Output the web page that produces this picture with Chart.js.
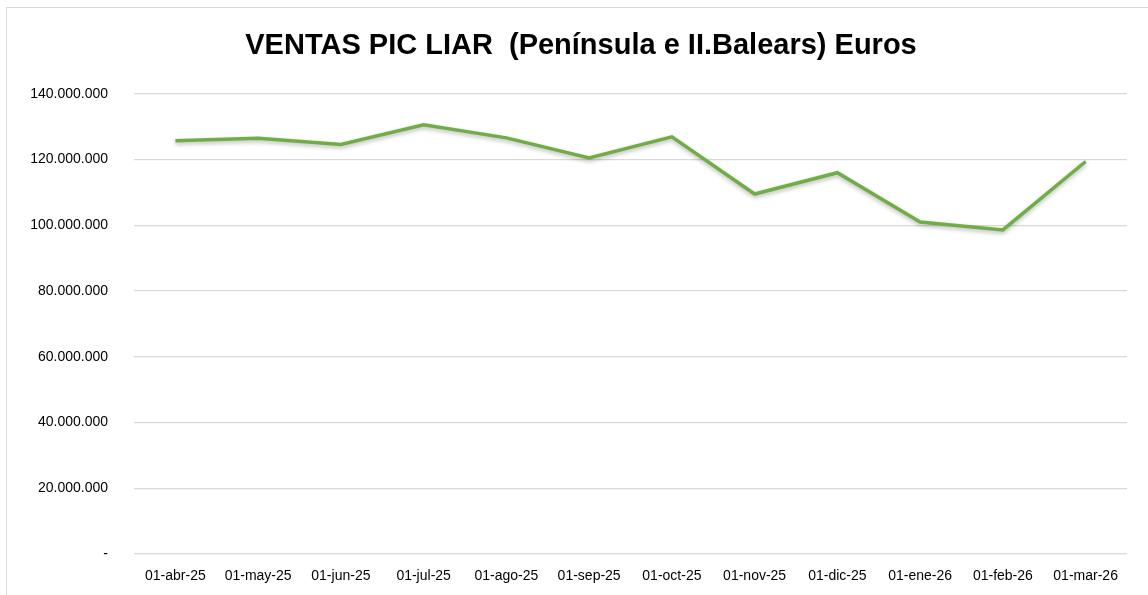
<!DOCTYPE html>
<html>
<head>
<meta charset="utf-8">
<script src="https://cdn.jsdelivr.net/npm/chart.js@4.4.1/dist/chart.umd.min.js"></script>
<style>
    html, body { margin: 0; padding: 0; background: #fff; overflow: hidden; }
    #frame { position: absolute; left: 6px; top: 7px; width: 1160px; height: 610px; border: 1.5px solid #d9d9d9; box-sizing: border-box; }
    #wrap { position: absolute; left: 0; top: 0; width: 1148px; height: 595px; }
</style>
</head>
<body>
<div id="frame"></div>
<div id="wrap"><canvas id="salesChart"></canvas></div>
<script>
// --- Data ---
const months = ['01-abr-25', '01-may-25', '01-jun-25', '01-jul-25', '01-ago-25', '01-sep-25',
                '01-oct-25', '01-nov-25', '01-dic-25', '01-ene-26', '01-feb-26', '01-mar-26'];
const ventas = [125700000, 126500000, 124600000, 130600000, 126600000, 120500000,
                126900000, 109500000, 116000000, 101000000, 98600000, 119400000];
const yTicks = [0, 20000000, 40000000, 60000000, 80000000, 100000000, 120000000, 140000000];

function fmtMiles(v) {
    if (v === 0) return '-';
    return String(v).replace(/\B(?=(\d{3})+(?!\d))/g, '.');
}

// soft shadow under the line, like the spreadsheet export
const lineShadow = {
    id: 'lineShadow',
    beforeDatasetDraw(chart) {
        const ctx = chart.ctx;
        ctx.save();
        ctx.shadowColor = 'rgba(0,0,0,0.28)';
        ctx.shadowBlur = 4;
        ctx.shadowOffsetY = 2;
    },
    afterDatasetDraw(chart) {
        chart.ctx.restore();
    }
};

// the original title sits a bit right of the canvas centre
const titleNudge = {
    id: 'titleNudge',
    afterLayout(chart) {
        if (chart.titleBlock) chart.titleBlock.left += 35;
    }
};

const ctxSales = document.getElementById('salesChart');
new Chart(ctxSales, {
    type: 'line',
    data: {
        labels: months,
        datasets: [{
            label: 'Ventas',
            data: ventas,
            borderColor: '#70AD47',
            borderWidth: 3.5,
            pointRadius: 0,
            tension: 0,
            fill: false
        }]
    },
    options: {
        responsive: true,
        maintainAspectRatio: false,
        animation: false,
        layout: { padding: { left: 0, right: 21, top: 0, bottom: 0 } },
        plugins: {
            legend: { display: false },
            tooltip: { enabled: false },
            title: {
                display: true,
                text: 'VENTAS PIC LIAR  (Península e II.Balears) Euros',
                color: '#000',
                font: { family: '"Liberation Sans", Arial, sans-serif', size: 29, weight: 'bold' },
                padding: { top: 29, bottom: 30 }
            }
        },
        scales: {
            y: {
                min: 0,
                max: 140000000,
                afterBuildTicks: (axis) => { axis.ticks = yTicks.map(v => ({ value: v })); },
                afterFit: (axis) => { axis.width = 134; },
                border: { display: false },
                grid: { color: '#d9d9d9', lineWidth: 1.3, drawTicks: false },
                ticks: {
                    padding: 26,
                    color: '#000',
                    font: { family: '"Liberation Sans", Arial, sans-serif', size: 14 },
                    callback: (v) => fmtMiles(v)
                }
            },
            x: {
                offset: true,
                afterFit: (axis) => { axis.height = 41; },
                border: { display: false },
                grid: { display: false, drawTicks: false },
                ticks: {
                    padding: 14,
                    maxRotation: 0,
                    autoSkip: false,
                    color: '#000',
                    font: { family: '"Liberation Sans", Arial, sans-serif', size: 14 }
                }
            }
        }
    },
    plugins: [lineShadow, titleNudge]
});
</script>
</body>
</html>
